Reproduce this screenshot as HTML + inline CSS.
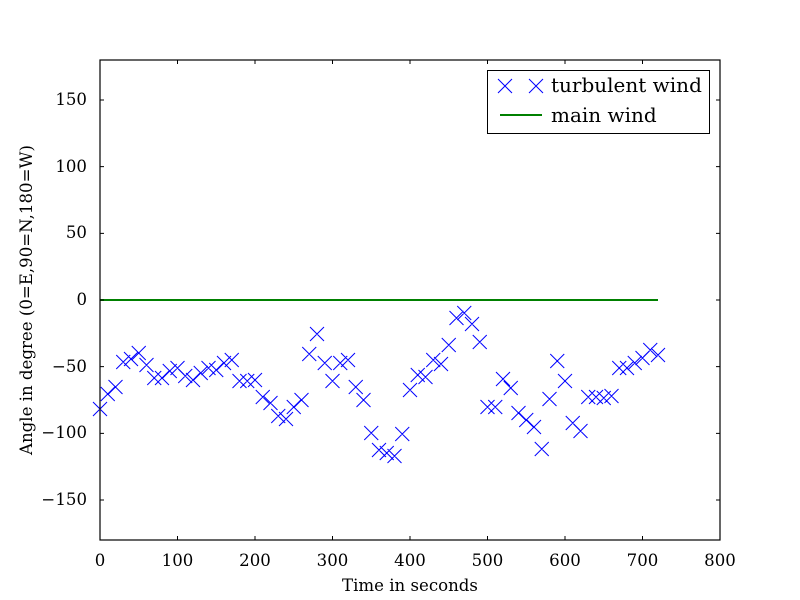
<!DOCTYPE html>
<html><head><style>body{margin:0;background:#fff}svg{display:block}text{font-family:"DejaVu Serif","Liberation Serif",serif;fill:#000}</style></head>
<body>
<svg width="800" height="600" xmlns="http://www.w3.org/2000/svg">
<rect width="800" height="600" fill="#fff"/>
<line x1="100" y1="300" x2="658" y2="300" stroke="#008000" stroke-width="2"/>
<g id="pts" stroke="#0000ff" stroke-width="1" fill="none"></g>
<rect x="100" y="60" width="620" height="480" fill="none" stroke="#000" stroke-width="1.2"/>
<g id="ticks" stroke="#000" stroke-width="1"></g>
<g font-size="16.6" text-anchor="end">
<text x="87" y="105">150</text><text x="87" y="172">100</text><text x="87" y="238">50</text><text x="87" y="305">0</text><text x="87" y="372">−50</text><text x="87" y="438">−100</text><text x="87" y="505">−150</text>
</g>
<g font-size="16.6" text-anchor="middle">
<text x="100" y="566">0</text><text x="177.5" y="566">100</text><text x="255" y="566">200</text><text x="332.5" y="566">300</text><text x="410" y="566">400</text><text x="487.5" y="566">500</text><text x="565" y="566">600</text><text x="642.5" y="566">700</text><text x="720" y="566">800</text>
<text x="410" y="591">Time in seconds</text>
<text transform="translate(32,300) rotate(-90)">Angle in degree (0=E,90=N,180=W)</text>
</g>
<rect x="487.5" y="70.5" width="222" height="63" fill="#fff" stroke="#000" stroke-width="1"/>
<g stroke="#0000ff" stroke-width="1"><path d="M498 79l14 14M512 79l-14 14M529 79l14 14M543 79l-14 14"/></g>
<line x1="500" y1="115" x2="542" y2="115" stroke="#008000" stroke-width="2"/>
<text x="551" y="92" font-size="20">turbulent wind</text>
<text x="551" y="122" font-size="20">main wind</text>
</svg>
<script>
var ys=[409,394,387,362,359,353,365,378,378,371,368,376,380,373,368,370,363,360,381,381,380,397,403,416,419,407,400,354,334,363,381,363,360,387,400,433,450,453,456,434,390,375,377,360,364,345,318,313,324,342,407,407,379,388,413,420,427,449,399,361,381,423,431,397,397,398,396,368,368,363,358,350,355];
var g=document.getElementById('pts'),d='';
for(var i=0;i<ys.length;i++){var x=100+i*7.75,y=ys[i];d+='M'+(x-7)+' '+(y-7)+'l14 14M'+(x+7)+' '+(y-7)+'l-14 14';}
g.innerHTML='<path d="'+d+'"/>';
var t='';
[100,166.67,233.33,300,366.67,433.33,500].forEach(function(y){t+='M100 '+y+'h4M720 '+y+'h-4';});
[100,177.5,255,332.5,410,487.5,565,642.5,720].forEach(function(x){t+='M'+x+' 540v-4M'+x+' 60v4';});
document.getElementById('ticks').innerHTML='<path d="'+t+'"/>';
</script>
</body></html>
